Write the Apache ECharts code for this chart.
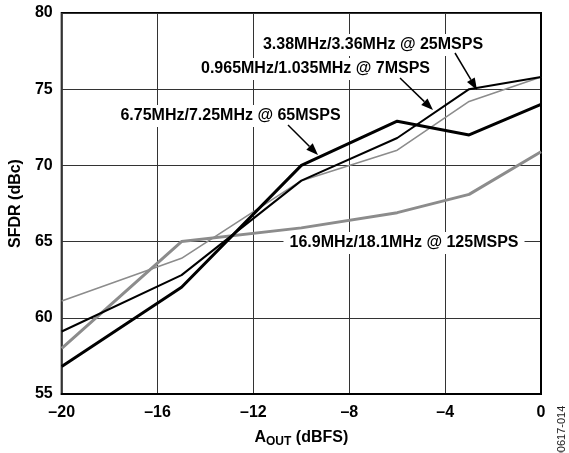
<!DOCTYPE html>
<html>
<head>
<meta charset="utf-8">
<script src="https://cdn.jsdelivr.net/npm/echarts@6/dist/echarts.min.js"></script>
<style>
html,body{margin:0;padding:0;background:#fff;}
#c{width:569px;height:453px;}
</style>
</head>
<body>
<div id="c"></div>
<script>
var xValues = [-20, -15, -10, -6, -3, 0];
var sfdr65 = [56.8, 62.0, 70.0, 72.9, 72.0, 74.0];
var sfdr7 = [59.1, 62.8, 69.0, 71.8, 75.0, 75.8];
var sfdr25 = [61.1, 63.9, 69.0, 71.0, 74.2, 75.8];
var sfdr125 = [58.0, 65.0, 65.9, 66.9, 68.1, 70.9];
var labels = {
  s25: '3.38MHz/3.36MHz @ 25MSPS',
  s7: '0.965MHz/1.035MHz @ 7MSPS',
  s65: '6.75MHz/7.25MHz @ 65MSPS',
  s125: '16.9MHz/18.1MHz @ 125MSPS'
};

function pairs(ys){ return xValues.map(function(x,i){ return [x, ys[i]]; }); }

var FONT = '"Liberation Sans", Arial, sans-serif';
var chart = echarts.init(document.getElementById('c'), null, {renderer:'canvas'});

function arrow(x1,y1,x2,y2){
  var a = Math.atan2(y2-y1, x2-x1), L = 12, W = 4.5;
  var bx = x2 - L*Math.cos(a), by = y2 - L*Math.sin(a);
  var px = -Math.sin(a)*W, py = Math.cos(a)*W;
  return [
    {type:'line', z:5, shape:{x1:x1,y1:y1,x2:bx,y2:by}, style:{stroke:'#000', lineWidth:1.5}},
    {type:'polygon', z:5, shape:{points:[[x2,y2],[bx+px,by+py],[bx-px,by-py]]}, style:{fill:'#000'}}
  ];
}
function label(text, cx, cy){
  return {type:'text', z:1, x:cx, y:cy, style:{text:text, font:'bold 16px '+FONT, fill:'#000',
    align:'center', verticalAlign:'middle', backgroundColor:'#fff', padding:[3,6]}};
}

var graphics = [
  label(labels.s25, 373, 45),
  label(labels.s7, 315.5, 69),
  label(labels.s65, 230.5, 116),
  label(labels.s125, 404, 243),
  {type:'text', z:5, x:562, y:432, rotation:Math.PI/2, style:{text:'00617-014', font:'11px '+FONT, fill:'#222', align:'center', verticalAlign:'middle'}}
].concat(arrow(455,53,477,90)).concat(arrow(400,78,433,110)).concat(arrow(288,125,318,155));

chart.setOption({
  animation:false,
  backgroundColor:'#fff',
  grid:{left:61, right:28, top:13, bottom:56, show:true, borderColor:'#000', borderWidth:2, backgroundColor:'transparent'},
  xAxis:{type:'value', min:-20, max:0, interval:4,
    axisLine:{show:true, lineStyle:{color:'#000', width:2}},
    axisTick:{show:false},
    splitLine:{show:true, lineStyle:{color:'#333', width:1}},
    axisLabel:{color:'#000', fontFamily:FONT, fontWeight:'bold', fontSize:16, margin:11,
      formatter:function(v){ return String(v).replace('-', '\u2013'); }},
    name:'A{sub|OUT} (dBFS)', nameLocation:'middle', nameGap:34,
    nameTextStyle:{color:'#000', fontFamily:FONT, fontWeight:'bold', fontSize:16,
      rich:{sub:{fontFamily:FONT, fontWeight:'bold', fontSize:12, verticalAlign:'bottom', padding:[8,0,0,0], color:'#000'}}}
  },
  yAxis:{type:'value', min:55, max:80, interval:5,
    axisLine:{show:true, lineStyle:{color:'#000', width:2}},
    axisTick:{show:false},
    splitLine:{show:true, lineStyle:{color:'#333', width:1}},
    axisLabel:{color:'#000', fontFamily:FONT, fontWeight:'bold', fontSize:16, margin:9},
    name:'SFDR (dBc)', nameLocation:'middle', nameGap:37, nameRotate:90,
    nameTextStyle:{color:'#000', fontFamily:FONT, fontWeight:'bold', fontSize:16}
  },
  series:[
    {type:'line', name:labels.s125, data:pairs(sfdr125), symbol:'none', lineStyle:{color:'#8c8c8c', width:3}, z:3},
    {type:'line', name:labels.s25, data:pairs(sfdr25), symbol:'none', lineStyle:{color:'#8c8c8c', width:1.6}, z:3},
    {type:'line', name:labels.s7, data:pairs(sfdr7), symbol:'none', lineStyle:{color:'#000', width:2}, z:4},
    {type:'line', name:labels.s65, data:pairs(sfdr65), symbol:'none', lineStyle:{color:'#000', width:3}, z:4}
  ],
  graphic:graphics
});
</script>
</body>
</html>
